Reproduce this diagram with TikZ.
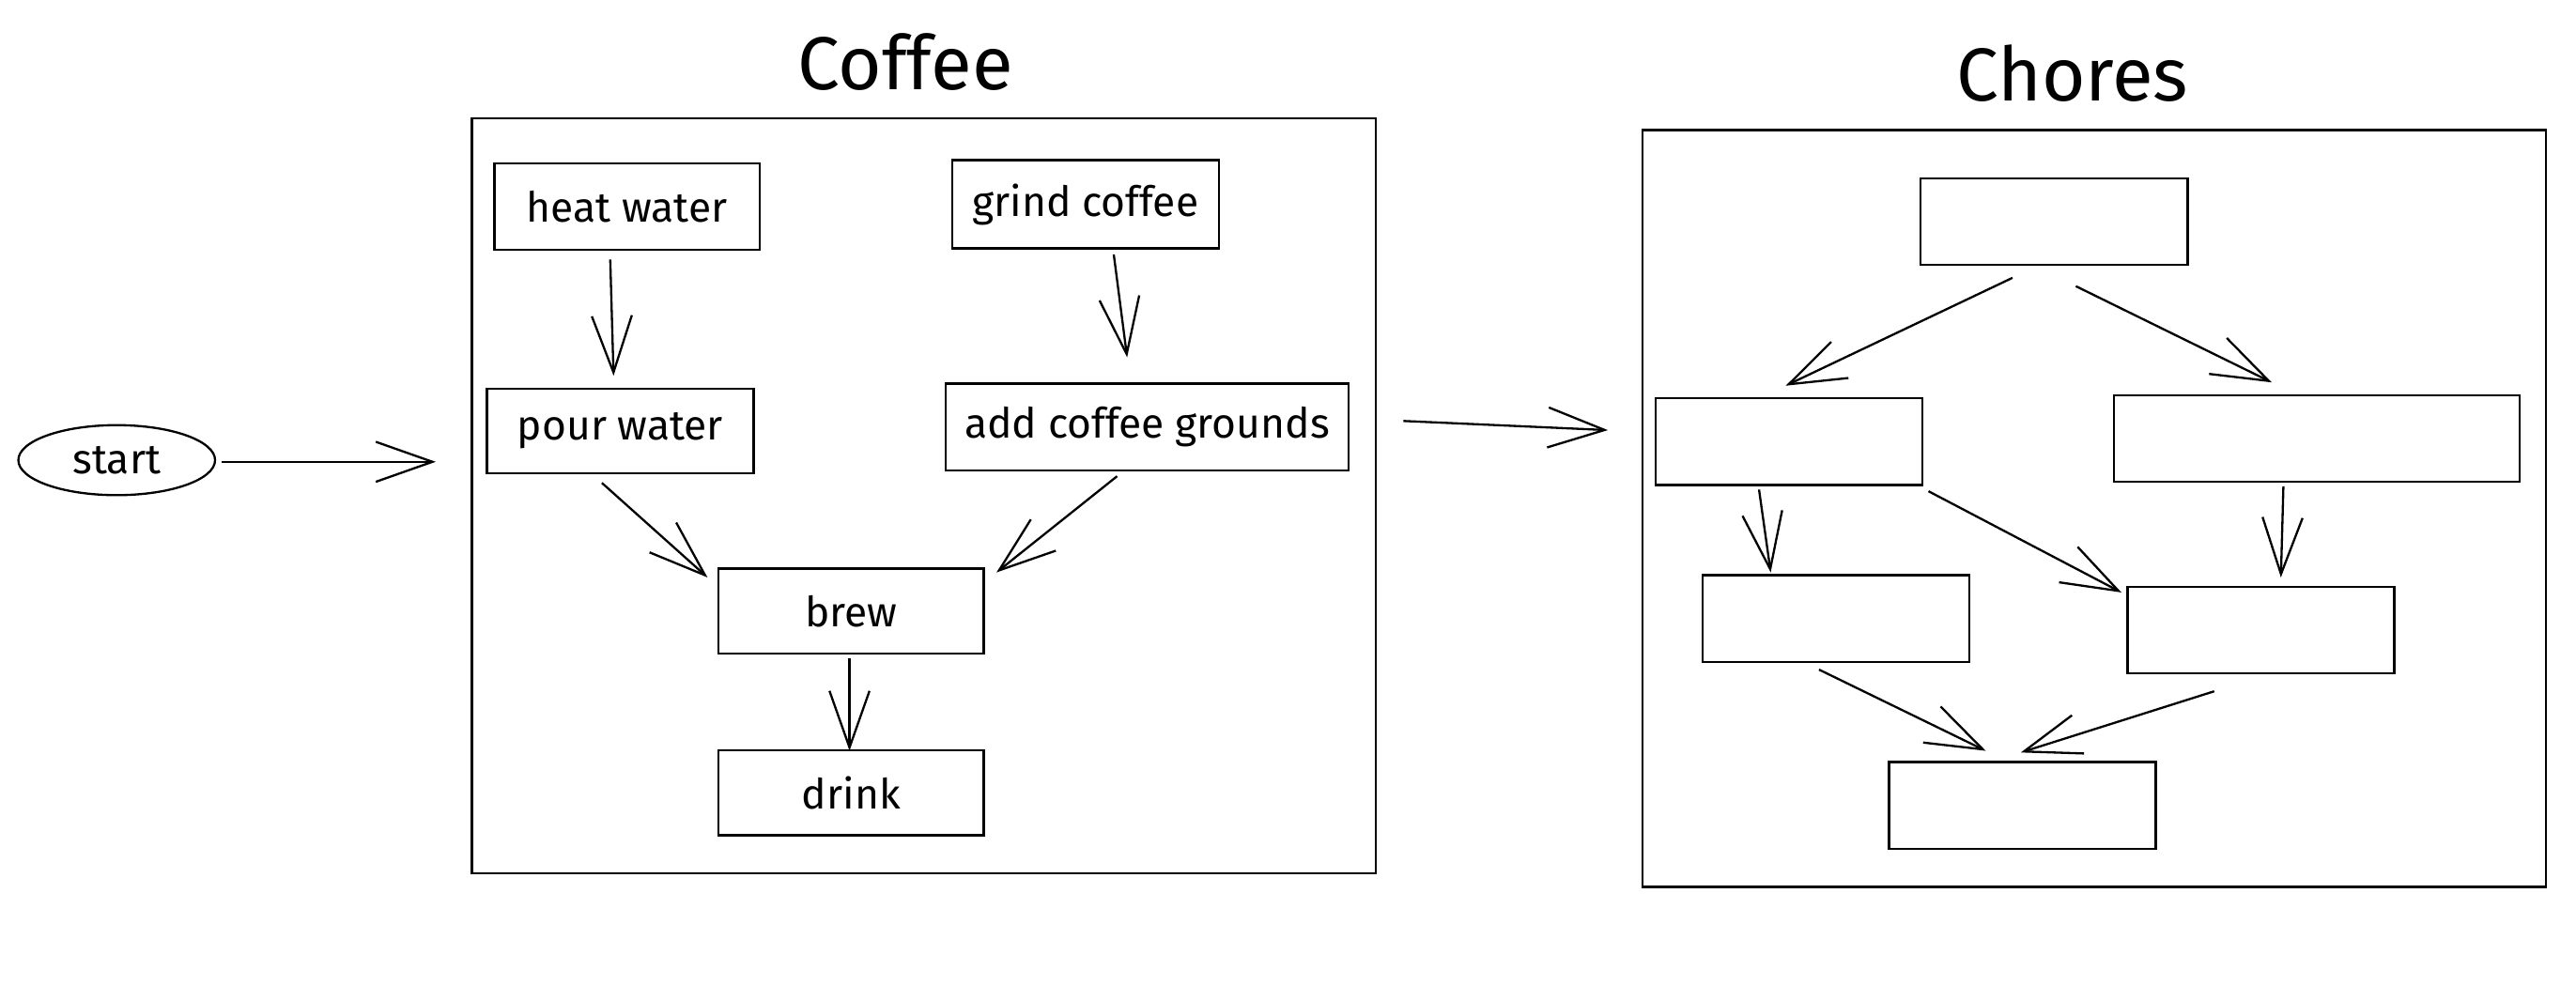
\documentclass[tikz,border=0pt]{standalone}
\usepackage{fontspec}
\setmainfont{Fira Sans}
\usetikzlibrary{shapes.geometric,arrows.meta,calc}
\tikzset{
  sk/.style={draw=black, line width=1.3pt},
  lbl/.style={font=\fontsize{25}{30}\selectfont},
  box/.style={sk, lbl, rectangle, minimum height=52pt, inner sep=0pt},
  frame/.style={sk, rectangle, inner sep=0pt},
  ttl/.style={font=\fontsize{45}{52}\selectfont, inner sep=0pt},
  arr/.style={black, line width=1.3pt, -{Straight Barb[length=34pt,width=24pt,line width=1.3pt]}},
}
\begin{document}
\begin{tikzpicture}[x=1pt,y=-1pt]
\useasboundingbox[fill=white] (0,0) rectangle (1545,600);
% titles
\node[ttl] (tc) at (543,37) {Coffee};
\node[ttl] (th) at (1243,44) {Chores};
% frames
\node[frame, minimum width=542pt, minimum height=453pt] (cof) at (554,297.5) {};
\node[frame, minimum width=542pt, minimum height=454pt] (cho) at (1256,305) {};
% start
\node[sk, lbl, ellipse, minimum width=118pt, minimum height=42pt, inner sep=0pt] (st) at (70,276) {start};
% coffee boxes
\node[box, minimum width=159pt] (hw) at (376,124) {heat water};
\node[box, minimum width=160pt, minimum height=53pt] (gc) at (651,122.5) {grind coffee};
\node[box, minimum width=160pt, minimum height=51pt] (pw) at (372,258.5) {pour water};
\node[box, minimum width=242pt] (acg) at (688,256) {add coffee grounds};
\node[box, minimum width=159pt, minimum height=51pt] (br) at (510.5,366.5) {brew};
\node[box, minimum width=159pt, minimum height=51pt] (dr) at (510.5,475.5) {drink};
% chores boxes
\node[box, minimum width=160pt] (c1) at (1232,133) {};
\node[box, minimum width=160pt] (c2) at (1073,265) {};
\node[box, minimum width=243pt] (c3) at (1389.5,263) {};
\node[box, minimum width=160pt] (c4) at (1101,371) {};
\node[box, minimum width=160pt] (c5) at (1356,378) {};
\node[box, minimum width=160pt] (c6) at (1213,483) {};
% connectors
\draw[arr] ($(st.east)+(3,1)$) -- ($(cof.west |- st.east)+(-21,1)$);
\draw[arr] ($(hw.south)+(-10,5)$) -- ($(pw.north)+(-4,-7)$);
\draw[arr] ($(gc.south)+(17,3)$) -- ($(acg.north)+(-12,-15)$);
\draw[arr] ($(pw.south)+(-11,5)$) -- ($(br.north west)+(-6,6)$);
\draw[arr] ($(acg.south)+(-18,3)$) -- ($(br.north east)+(7,3)$);
\draw[arr] ($(br.south)+(-1,2)$) -- ($(dr.north)+(-1,1)$);
\draw[arr] ($(cof.east)+(16,-45)$) -- ($(cho.west)+(-20,-47)$);
\draw[arr] ($(c1.south)+(-25,7)$) -- ($(c2.north)+(-2,-7)$);
\draw[arr] ($(c1.south)+(13,12)$) -- ($(c3.north)+(-27,-7)$);
\draw[arr] ($(c2.south)+(-18,2)$) -- ($(c4.north)+(-39,-1)$);
\draw[arr] ($(c2.south east)+(3,3)$) -- ($(c5.north west)+(-3,4)$);
\draw[arr] ($(c3.south)+(-20,2)$) -- ($(c5.north)+(12,-5)$);
\draw[arr] ($(c4.south)+(-10,4)$) -- ($(c6.north)+(-22,-6)$);
\draw[arr] ($(c5.south)+(-28,10)$) -- ($(c6.north)+(-1,-5)$);
\end{tikzpicture}
\end{document}
